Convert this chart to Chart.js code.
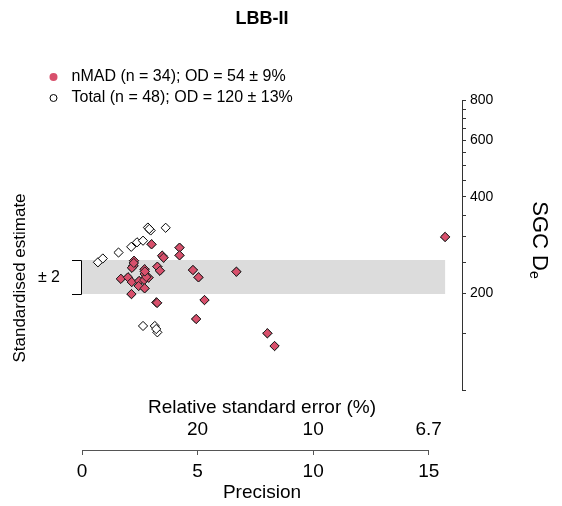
<!DOCTYPE html>
<html>
<head>
<meta charset="utf-8">
<script src="https://cdn.jsdelivr.net/npm/chart.js@4.4.1/dist/chart.umd.min.js"></script>
<style>
  html, body { margin: 0; padding: 0; background: #fff; }
</style>
</head>
<body>
<canvas id="chart" width="562" height="506"></canvas>
<script>
const plotTitle = "LBB-II";
const legendLabels = ["nMAD (n = 34); OD = 54 ± 9%", "Total (n = 48); OD = 120 ± 13%"];

// radial plot coordinates: precision (1/rse) and standardised estimate
const nmadPrecision = [3.01, 4.22, 4.22, 3.47, 3.53, 2.25, 2.23, 2.16, 2.71, 2.71, 3.26, 3.37,
  4.80, 6.68, 5.04, 1.68, 1.99, 2.15, 2.47, 2.69, 2.88, 2.45, 2.71, 2.14, 3.22, 5.30, 4.94,
  8.02, 8.33, 15.71, 2.78, 2.24, 3.25, 2.72];
const nmadZ = [3.85, 3.45, 2.55, 2.51, 2.27, 1.92, 1.33, 1.09, 0.91, 0.35, 1.21, 0.74,
  0.82, 0.62, -0.04, -0.21, -0.04, -0.59, -0.47, -0.35, -0.08, -1.06, -1.33, -2.01, -2.98, -2.71, -4.94,
  -6.62, -8.12, 4.71, 0.00, 1.65, -3.04, 0.65];
// the other 14 aliquots of the total set
const otherPrecision = [0.69, 0.90, 1.58, 2.13, 2.38, 2.64, 2.85, 2.97, 3.62, 2.64, 3.15, 3.26, 2.91, 3.21];
const otherZ = [1.73, 2.18, 2.88, 3.55, 4.08, 4.27, 5.82, 5.47, 5.79, -5.76, -5.76, -6.51, 5.65, -6.12];

const totalPrecision = otherPrecision.concat(nmadPrecision);
const totalZ = otherZ.concat(nmadZ);

const precisionTicks = [0, 5, 10, 15];
const rseTickPrecision = [5, 10, 15];
const deTicks = [100, 150, 200, 250, 300, 350, 400, 450, 500, 550, 600, 650, 700, 750, 800];
const deLabels = [200, 400, 600, 800];
const bandZ = [-2, 2];

const red = '#D8506C';
const textX = 262;

Chart.defaults.font.family = "'Liberation Sans', Arial, sans-serif";
Chart.defaults.color = '#000';

const toPoints = (xs, ys) => xs.map((v, i) => ({ x: v, y: ys[i] }));

const radialPlugin = {
  id: 'radial',
  beforeDatasetsDraw(chart) {
    const { ctx, scales: { x, z } } = chart;
    const x0 = x.getPixelForValue(0);
    const x1 = x.getPixelForValue(Math.max(...totalPrecision));
    const yTop = z.getPixelForValue(bandZ[1]);
    const yBot = z.getPixelForValue(bandZ[0]);
    ctx.save();
    ctx.fillStyle = '#DCDCDC';
    ctx.fillRect(x0, yTop, x1 - x0, yBot - yTop);
    ctx.restore();
  },
  afterDraw(chart) {
    const { ctx, chartArea, scales: { x, z, de } } = chart;
    ctx.save();

    // title
    ctx.fillStyle = '#000';
    ctx.font = "bold 18px 'Liberation Sans', Arial, sans-serif";
    ctx.textAlign = 'center';
    ctx.textBaseline = 'middle';
    ctx.fillText(plotTitle, textX, 19);

    // legend
    ctx.font = "16px 'Liberation Sans', Arial, sans-serif";
    ctx.textAlign = 'left';
    ctx.beginPath();
    ctx.arc(53.5, 77, 4, 0, Math.PI * 2);
    ctx.fillStyle = red;
    ctx.fill();
    ctx.beginPath();
    ctx.arc(53.5, 98, 3.5, 0, Math.PI * 2);
    ctx.strokeStyle = '#000';
    ctx.lineWidth = 1;
    ctx.stroke();
    ctx.fillStyle = '#000';
    ctx.fillText(legendLabels[0], 71.5, 77);
    ctx.fillText(legendLabels[1], 71.5, 98);

    // precision axis line
    const axY = chartArea.bottom;
    ctx.strokeStyle = '#555';
    ctx.beginPath();
    ctx.moveTo(x.getPixelForValue(precisionTicks[0]), axY + 0.5);
    ctx.lineTo(x.getPixelForValue(precisionTicks[precisionTicks.length - 1]), axY + 0.5);
    ctx.stroke();

    // relative standard error labels
    ctx.font = "19px 'Liberation Sans', Arial, sans-serif";
    ctx.textAlign = 'center';
    rseTickPrecision.forEach((p) => {
      const rse = 100 / p;
      const lab = Number.isInteger(rse) ? String(rse) : rse.toFixed(1);
      ctx.fillText(lab, x.getPixelForValue(p), 430);
    });
    ctx.fillText('Relative standard error (%)', textX, 408);
    ctx.fillText('Precision', textX, 493);

    // De arc (drawn straight)
    ctx.strokeStyle = '#333';
    ctx.beginPath();
    ctx.moveTo(chartArea.right + 0.5, de.getPixelForValue(deTicks[0]));
    ctx.lineTo(chartArea.right + 0.5, de.getPixelForValue(deTicks[deTicks.length - 1]));
    ctx.stroke();

    // SGC De title
    ctx.save();
    ctx.translate(542, 240);
    ctx.rotate(Math.PI / 2);
    ctx.font = "22px 'Liberation Sans', Arial, sans-serif";
    ctx.textAlign = 'left';
    ctx.textBaseline = 'alphabetic';
    const main = 'SGC D';
    const w = ctx.measureText(main).width;
    ctx.font = "14px 'Liberation Sans', Arial, sans-serif";
    const ws = ctx.measureText('e').width;
    const start = -(w + ws) / 2;
    ctx.font = "22px 'Liberation Sans', Arial, sans-serif";
    ctx.fillText(main, start, 9);
    ctx.font = "14px 'Liberation Sans', Arial, sans-serif";
    ctx.fillText('e', start + w, 12);
    ctx.restore();

    // standardised estimate label
    ctx.save();
    ctx.translate(20, 278);
    ctx.rotate(-Math.PI / 2);
    ctx.font = "17px 'Liberation Sans', Arial, sans-serif";
    ctx.textAlign = 'center';
    ctx.textBaseline = 'middle';
    ctx.fillText('Standardised estimate', 0, 0);
    ctx.restore();

    // +-2 bracket
    const bTop = z.getPixelForValue(bandZ[1]);
    const bBot = z.getPixelForValue(bandZ[0]);
    const bx = x.getPixelForValue(0) - 1;
    ctx.strokeStyle = '#000';
    ctx.beginPath();
    ctx.moveTo(bx - 9, bTop + 0.5);
    ctx.lineTo(bx + 0.5, bTop + 0.5);
    ctx.lineTo(bx + 0.5, bBot + 0.5);
    ctx.lineTo(bx - 9, bBot + 0.5);
    ctx.stroke();
    ctx.font = "16px 'Liberation Sans', Arial, sans-serif";
    ctx.textAlign = 'right';
    ctx.textBaseline = 'middle';
    ctx.fillText('± 2', 60, (bTop + bBot) / 2 + 1);

    ctx.restore();
  }
};

new Chart(document.getElementById('chart'), {
  type: 'scatter',
  data: {
    datasets: [
      {
        label: legendLabels[0],
        data: toPoints(nmadPrecision, nmadZ),
        xAxisID: 'x',
        yAxisID: 'z',
        pointStyle: 'rectRot',
        pointRadius: 4.6,
        backgroundColor: red,
        borderColor: '#222',
        borderWidth: 1,
        order: 0
      },
      {
        label: legendLabels[1],
        data: toPoints(totalPrecision, totalZ),
        xAxisID: 'x',
        yAxisID: 'z',
        pointStyle: 'rectRot',
        pointRadius: 4.6,
        backgroundColor: '#fff',
        borderColor: '#000',
        borderWidth: 1,
        order: 1
      }
    ]
  },
  options: {
    responsive: false,
    animation: false,
    layout: { padding: { top: 100, left: 0, right: 0, bottom: 0 } },
    plugins: {
      legend: { display: false },
      title: { display: false },
      tooltip: { enabled: false }
    },
    scales: {
      x: {
        type: 'linear',
        position: 'bottom',
        min: 0,
        max: 16.44,
        afterFit(s) { s.height = 56; },
        afterBuildTicks(s) { s.ticks = precisionTicks.map((v) => ({ value: v })); },
        border: { display: false },
        grid: { drawOnChartArea: false, tickLength: 5, color: '#555' },
        ticks: { font: { size: 19 }, padding: 5, maxRotation: 0 }
      },
      z: {
        type: 'linear',
        position: 'left',
        min: -20.353,
        max: 20.824,
        afterFit(s) { s.width = 82; },
        ticks: { display: false },
        grid: { display: false },
        border: { display: false }
      },
      de: {
        type: 'logarithmic',
        position: 'right',
        min: 65.18,
        max: 800,
        afterFit(s) { s.width = 100; },
        afterBuildTicks(s) { s.ticks = deTicks.map((v) => ({ value: v })); },
        border: { display: false },
        grid: { drawOnChartArea: false, tickLength: 4, color: '#333' },
        ticks: {
          autoSkip: false,
          font: { size: 14 },
          padding: 4,
          callback: (v) => (deLabels.includes(v) ? String(v) : '')
        }
      }
    }
  },
  plugins: [radialPlugin]
});
</script>
</body>
</html>
